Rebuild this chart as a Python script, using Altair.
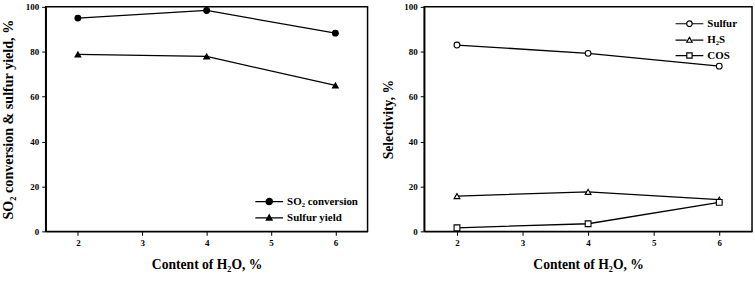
import altair as alt
import pandas as pd

water = [2, 4, 6]
so2_conversion = [95.0, 98.4, 88.3]
sulfur_yield = [78.8, 77.9, 65.0]
sel_sulfur = [83.0, 79.3, 73.6]
sel_h2s = [15.7, 17.6, 14.1]
sel_cos = [1.6, 3.4, 12.9]

left_series = ["SO₂ conversion", "Sulfur yield"]
right_series = ["Sulfur", "H₂S", "COS"]
x_ticks = [2, 3, 4, 5, 6]
y_ticks = [0, 20, 40, 60, 80, 100]

FONT = "Liberation Serif"

left_df = pd.DataFrame({
    "water": water * 2,
    "value": so2_conversion + sulfur_yield,
    "series": [left_series[0]] * 3 + [left_series[1]] * 3,
})
right_df = pd.DataFrame({
    "water": water * 3,
    "value": sel_sulfur + sel_h2s + sel_cos,
    "series": [right_series[0]] * 3 + [right_series[1]] * 3 + [right_series[2]] * 3,
})

# legend symbols: line segment + marker (custom paths)
P_CIRCLE_F = "M-1,0L3,0M1.45,0A0.45,0.45,0,1,1,0.55,0A0.45,0.45,0,1,1,1.45,0Z"
P_TRI_F = "M-1,0L3,0M1,-0.45L1.42,0.3L0.58,0.3Z"
P_CIRCLE_O = "M-1,0L0.6,0M1.4,0L3,0M1.4,0A0.4,0.4,0,1,1,0.6,0A0.4,0.4,0,1,1,1.4,0Z"
P_TRI_O = "M-1,0L0.6,0M1.4,0L3,0M1,-0.4L1.4,0.3L0.6,0.3Z"
P_SQ_O = "M-1,0L0.62,0M1.38,0L3,0M0.62,-0.38L1.38,-0.38L1.38,0.38L0.62,0.38Z"


def panel(df, series, shapes, legend_paths, filled, ytitle, ytitle_size, ytitle_pad, width, legend_x, legend_y):
    x = alt.X("water:Q", scale=alt.Scale(domain=[1.5, 6.5], nice=False),
              axis=alt.Axis(values=x_ticks, title="Content of H₂O, %", titlePadding=10, grid=False))
    y = alt.Y("value:Q", scale=alt.Scale(domain=[0, 100], nice=False),
              axis=alt.Axis(values=y_ticks, title=ytitle, titlePadding=ytitle_pad, titleFontSize=ytitle_size,
                            grid=False))
    line = alt.Chart(df).mark_line(color="black", strokeWidth=1.3).encode(
        x=x, y=y, detail="series:N")
    fill = "black" if filled else "white"
    layers = [line]
    for s, shp in zip(series, shapes):
        layers.append(
            alt.Chart(df).transform_filter(alt.datum.series == s).mark_point(
                shape=shp, filled=True, fill=fill, stroke="black", strokeWidth=1.1, size=34, opacity=1
            ).encode(x=x, y=y)
        )
    leg_props = dict(title=None, orient="none", legendX=legend_x, legendY=legend_y,
                     symbolSize=196, symbolStrokeWidth=1.2, symbolOpacity=1, labelOffset=17,
                     labelFont=FONT, labelFontWeight="bold", labelFontSize=11,
                     labelColor="black", rowPadding=2.5, padding=0)
    leg = alt.Chart(df).transform_filter("datum.value > 1000").mark_point(
        filled=True, strokeWidth=1.2, opacity=1).encode(
        x=x, y=y,
        shape=alt.Shape("series:N", scale=alt.Scale(domain=series, range=legend_paths),
                        legend=alt.Legend(**leg_props)),
        fill=alt.Fill("series:N", scale=alt.Scale(domain=series, range=[fill] * len(series)),
                      legend=alt.Legend(**leg_props)),
        stroke=alt.Stroke("series:N", scale=alt.Scale(domain=series, range=["black"] * len(series)),
                          legend=alt.Legend(**leg_props)),
    )
    layers.append(leg)
    return alt.layer(*layers).properties(width=width, height=226)


left = panel(left_df, left_series, ["circle", "triangle-up"], [P_CIRCLE_F, P_TRI_F], True,
             "SO₂ conversion & sulfur yield, %", 14.2, 10, 324, 210, 188)
right = panel(right_df, right_series, ["circle", "triangle-up", "square"], [P_CIRCLE_O, P_TRI_O, P_SQ_O], False,
              "Selectivity, %", 13.7, 8, 330, 252, 9)

chart = alt.hconcat(left, right, spacing=12).properties(
    padding={"left": 0, "top": 1, "right": 2, "bottom": 0},
    background="white",
).resolve_scale(shape="independent", fill="independent", stroke="independent").configure_view(
    stroke="black", strokeWidth=1.5).configure_axis(
    labelFont=FONT, labelFontWeight="bold", labelFontSize=9, labelColor="black",
    titleFont=FONT, titleFontWeight="bold", titleFontSize=13.7, titleColor="black",
    tickColor="black", tickSize=4, tickWidth=1, domainColor="black", domainWidth=1.5,
    grid=False, labelPadding=3,
)

chart.save("out.html", embed_options={"renderer": "svg", "actions": False})
